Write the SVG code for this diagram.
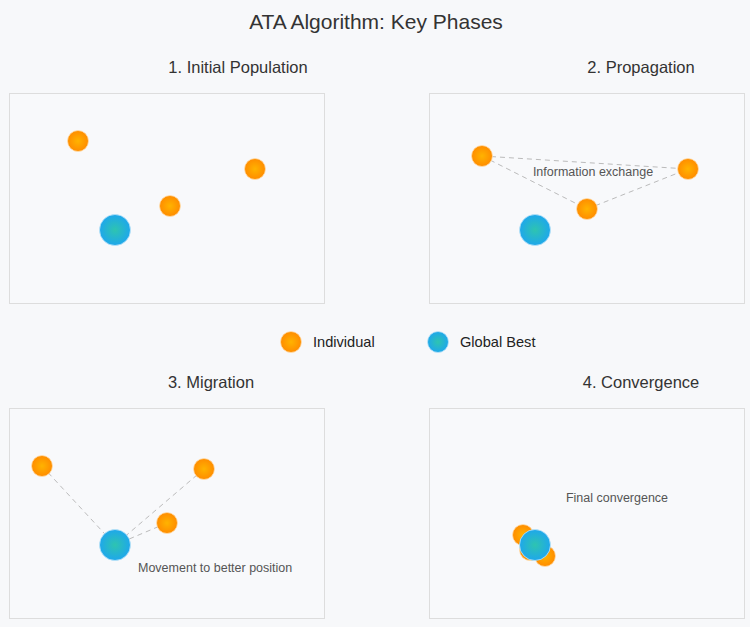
<svg xmlns="http://www.w3.org/2000/svg" width="750" height="627" viewBox="0 0 750 627">
<defs>
<radialGradient id="gOrange" cx="50%" cy="50%" r="50%">
<stop offset="0%" stop-color="#ffb300"/>
<stop offset="100%" stop-color="#ff8c00"/>
</radialGradient>
<radialGradient id="gBlue" cx="50%" cy="50%" r="50%">
<stop offset="0%" stop-color="#2ec4b0"/>
<stop offset="100%" stop-color="#1ea7ec"/>
</radialGradient>
<style>
.panel{fill:#f8f9fb;stroke:#dddddd;stroke-width:1}
.ind{fill:url(#gOrange);stroke:#ffe0b0;stroke-width:0.8}
.best{fill:url(#gBlue);stroke:#bfe4f8;stroke-width:0.8}
.link{stroke:#bbbbbb;stroke-width:1;stroke-dasharray:5,4;fill:none}
.title{font-family:"Liberation Sans",Arial,sans-serif;font-size:21px;fill:#333333;text-anchor:middle}
.ptitle{font-family:"Liberation Sans",Arial,sans-serif;font-size:16.5px;fill:#333333;text-anchor:middle}
.note{font-family:"Liberation Sans",Arial,sans-serif;font-size:12.5px;fill:#555555}
.leg{font-family:"Liberation Sans",Arial,sans-serif;font-size:14.6px;fill:#222222}
</style>
</defs>
<rect x="0" y="0" width="750" height="627" fill="#f7f8fa"/>
<text class="title" x="376" y="29">ATA Algorithm: Key Phases</text>

<g id="panel1">
<text class="ptitle" x="238" y="73">1. Initial Population</text>
<rect class="panel" x="9.5" y="93.5" width="315" height="210"/>
</g>
<g id="panel2">
<text class="ptitle" x="641" y="73">2. Propagation</text>
<rect class="panel" x="429.5" y="93.5" width="315" height="210"/>
</g>
<g id="panel3">
<text class="ptitle" x="211" y="388">3. Migration</text>
<rect class="panel" x="9.5" y="408.5" width="315" height="210"/>
</g>
<g id="panel4">
<text class="ptitle" x="641" y="388">4. Convergence</text>
<rect class="panel" x="429.5" y="408.5" width="315" height="210"/>
</g>

<g id="connectors">
<line class="link" x1="482" y1="156" x2="688" y2="169"/>
<line class="link" x1="482" y1="156" x2="587" y2="209"/>
<line class="link" x1="587" y1="209" x2="688" y2="169"/>
<line class="link" x1="42" y1="466" x2="115" y2="545"/>
<line class="link" x1="204" y1="469" x2="115" y2="545"/>
<line class="link" x1="167" y1="523" x2="115" y2="545"/>
</g>

<g id="p1-nodes">
<circle class="ind" cx="78" cy="141" r="10.5"/>
<circle class="ind" cx="255" cy="169" r="10.5"/>
<circle class="ind" cx="170" cy="206" r="10.5"/>
<circle class="best" cx="115" cy="230" r="15.5"/>
</g>
<g id="p2-nodes">
<circle class="ind" cx="482" cy="156" r="10.5"/>
<circle class="ind" cx="688" cy="169" r="10.5"/>
<circle class="ind" cx="587" cy="209" r="10.5"/>
<circle class="best" cx="535" cy="230" r="15.5"/>
<text class="note" x="593" y="176" text-anchor="middle">Information exchange</text>
</g>
<g id="legend">
<circle class="ind" cx="291" cy="342" r="10.5"/>
<text class="leg" x="313" y="347">Individual</text>
<circle class="best" cx="438" cy="342" r="10.5"/>
<text class="leg" x="460" y="347">Global Best</text>
</g>
<g id="p3-nodes">
<circle class="ind" cx="42" cy="466" r="10.5"/>
<circle class="ind" cx="204" cy="469" r="10.5"/>
<circle class="ind" cx="167" cy="523" r="10.5"/>
<circle class="best" cx="115" cy="545" r="15.5"/>
<text class="note" x="138" y="572">Movement to better position</text>
</g>
<g id="p4-nodes">
<circle class="ind" cx="523" cy="535" r="10.5"/>
<circle class="ind" cx="530" cy="550" r="10.5"/>
<circle class="ind" cx="545" cy="556" r="10.5"/>
<circle class="best" cx="535" cy="545" r="15.5"/>
<text class="note" x="617" y="502" text-anchor="middle">Final convergence</text>
</g>
</svg>
